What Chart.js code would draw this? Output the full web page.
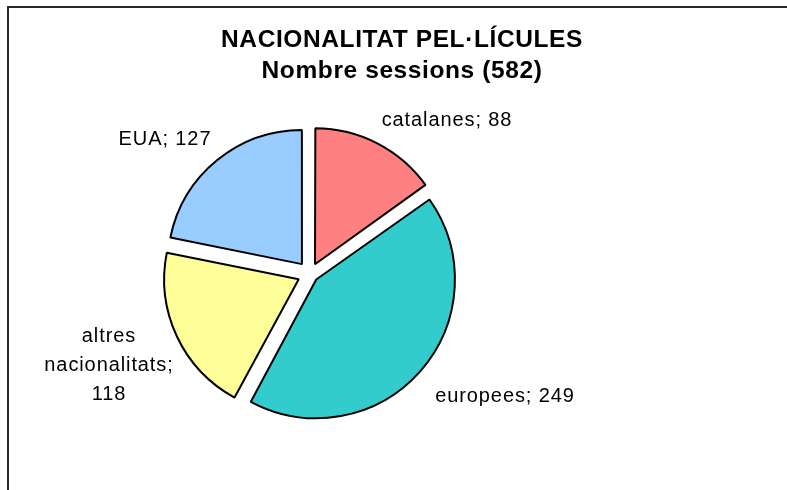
<!DOCTYPE html>
<html>
<head>
<meta charset="utf-8">
<script src="https://cdn.jsdelivr.net/npm/chart.js@4/dist/chart.umd.min.js"></script>
<style>
  html, body { margin: 0; padding: 0; background: #fff; }
  #wrap { width: 787px; height: 490px; position: relative; }
</style>
</head>
<body>
<div id="wrap"><canvas id="c" width="787" height="490"></canvas></div>
<script>
const categories = ['catalanes', 'europees', 'altres nacionalitats', 'EUA'];
const sessions = [88, 249, 118, 127];
const sliceColors = ['#FF8080', '#33CCCC', '#FFFF99', '#99CCFF'];
const titleLines = ['NACIONALITAT PEL·LÍCULES', 'Nombre sessions (582)'];
const labelLines = [
  ['catalanes; 88'],
  ['europees; 249'],
  ['altres', 'nacionalitats;', '118'],
  ['EUA; 127']
];

// label anchors relative to the pie centre (text centre x, first baseline y)
const labelAnchor = [
  { dx: 137, dy: -148 },
  { dx: 195, dy: 128 },
  { dx: -201, dy: 68 },
  { dx: -145, dy: -129 }
];

const EXPLODE_PX = 13;
// Chart.js v4 translates an arc by offset/4 * (1 + (1 - sin(circumference)))
function explodeOffset(ctx) {
  const total = sessions.reduce((a, b) => a + b, 0);
  const circ = sessions[ctx.dataIndex] / total * Math.PI * 2;
  const fix = 1 - Math.sin(Math.min(Math.PI, circ));
  return EXPLODE_PX * 4 / (1 + fix);
}

const decor = {
  id: 'decor',
  beforeDraw(chart) {
    const ctx = chart.ctx;
    ctx.save();
    ctx.fillStyle = '#fff';
    ctx.fillRect(0, 0, chart.width, chart.height);
    ctx.strokeStyle = '#2a2a2a';
    ctx.lineWidth = 2;
    ctx.beginPath();
    ctx.moveTo(8, chart.height + 2);
    ctx.lineTo(8, 7);
    ctx.lineTo(chart.width + 2, 7);
    ctx.stroke();
    ctx.restore();
  },
  afterDraw(chart) {
    const ctx = chart.ctx;
    ctx.save();
    ctx.fillStyle = '#000';
    ctx.textAlign = 'center';
    ctx.textBaseline = 'alphabetic';
    ctx.font = 'bold 24.5px "Liberation Sans", Arial, sans-serif';
    try { ctx.letterSpacing = '0.6px'; } catch (e) {}
    ctx.fillText(titleLines[0], 402, 47);
    ctx.fillText(titleLines[1], 402, 78);

    const meta = chart.getDatasetMeta(0);
    const arc0 = meta.data[0];
    const cx = arc0.x, cy = arc0.y;
    ctx.font = '20px "Liberation Sans", Arial, sans-serif';
    try { ctx.letterSpacing = '0.9px'; } catch (e) {}
    labelLines.forEach((lines, i) => {
      const a = labelAnchor[i];
      lines.forEach((t, j) => {
        ctx.fillText(t, cx + a.dx, cy + a.dy + j * 29);
      });
    });
    ctx.restore();
  }
};

new Chart(document.getElementById('c'), {
  type: 'pie',
  data: {
    labels: categories,
    datasets: [{
      data: sessions,
      backgroundColor: sliceColors,
      borderColor: '#000',
      borderWidth: 2,
      offset: explodeOffset,
      radius: 134
    }]
  },
  options: {
    responsive: false,
    animation: false,
    devicePixelRatio: 1,
    layout: { padding: { left: 152, right: 319, top: 132, bottom: 74 } },
    plugins: {
      legend: { display: false },
      title: { display: false },
      tooltip: { enabled: false }
    }
  },
  plugins: [decor]
});
</script>
</body>
</html>
